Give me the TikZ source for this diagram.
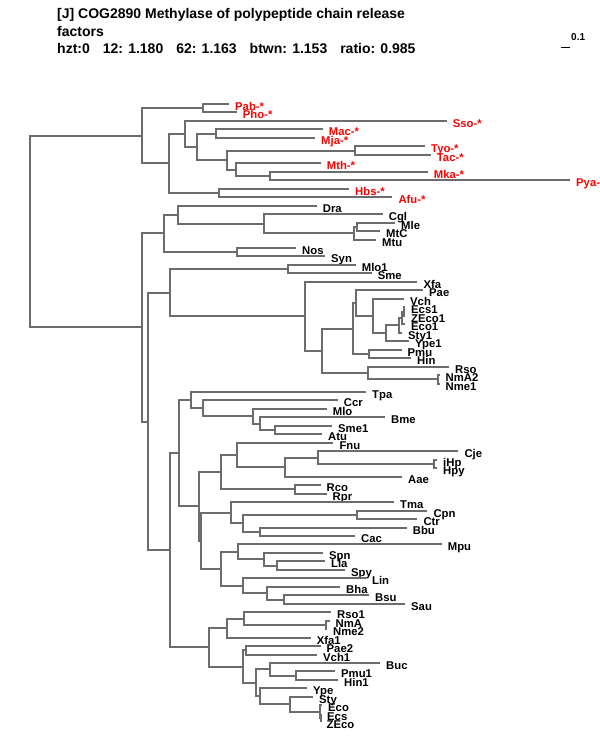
\documentclass[tikz,border=0pt]{standalone}
\usepackage{fontspec}
\setmainfont{Liberation Sans}
\definecolor{brc}{RGB}{108,108,108}
\definecolor{arc}{RGB}{255,0,0}
\tikzset{
 branch/.style={draw=brc, line width=2pt},
 lbl/.style={anchor=base west, inner sep=0pt, font=\fontsize{11.3}{13}\selectfont\bfseries},
 ttl/.style={anchor=base west, inner sep=0pt, font=\fontsize{14}{16}\selectfont\bfseries},
}
\newcommand\lf[5]{\coordinate (#1) at ({round(#3)},{round(104+(#2-1)*8.47)});
 \node[lbl,text=#5] (#1t) at ({#3+6},{round(104+(#2-1)*8.47)+6}) {#4};}
\newcommand\kids[2]{\foreach \c in {#2} {\draw[branch] (#1) |- (\c);}}
\begin{document}
\begin{tikzpicture}[x=1pt,y=-1pt]
\useasboundingbox (0,0) rectangle (600,750);
% title
\node[ttl] (t1) at (57,18.5) {[J] COG2890 Methylase of polypeptide chain release};
\node[ttl] (t2) at (57,36) {factors};
\node[ttl] (t3) at (57,53.5) {hzt:0\hspace{13pt}12: 1.180\hspace{13pt}62: 1.163\hspace{13pt}btwn: 1.153\hspace{13pt}ratio: 0.985};
% scale bar
\coordinate (sb1) at (561,47.5);
\coordinate (sb2) at (570,47.5);
\draw[black, line width=1pt] (sb1) -- (sb2);
\node[anchor=base west, inner sep=0pt, font=\fontsize{10}{12}\selectfont\bfseries] (sbt) at (571,40.5) {0.1};
% leaves
\lf{l1}{1}{229}{Pab-*}{arc}
\lf{l2}{2}{236.7}{Pho-*}{arc}
\lf{l3}{3}{446.7}{Sso-*}{arc}
\lf{l4}{4}{322.7}{Mac-*}{arc}
\lf{l5}{5}{315}{Mja-*}{arc}
\lf{l6}{6}{425}{Tyo-*}{arc}
\lf{l7}{7}{430.7}{Tac-*}{arc}
\lf{l8}{8}{320.7}{Mth-*}{arc}
\lf{l9}{9}{427.7}{Mka-*}{arc}
\lf{l10}{10}{570}{Pya-*}{arc}
\lf{l11}{11}{349}{Hbs-*}{arc}
\lf{l12}{12}{392.3}{Afu-*}{arc}
\lf{l13}{13}{316.7}{Dra}{black}
\lf{l14}{14}{382.7}{Cgl}{black}
\lf{l15}{15}{395}{Mle}{black}
\lf{l16}{16}{380}{MtC}{black}
\lf{l17}{17}{376}{Mtu}{black}
\lf{l18}{18}{296}{Nos}{black}
\lf{l19}{19}{325}{Syn}{black}
\lf{l20}{20}{355.7}{Mlo1}{black}
\lf{l21}{21}{371.7}{Sme}{black}
\lf{l22}{22}{417.3}{Xfa}{black}
\lf{l23}{23}{423}{Pae}{black}
\lf{l24}{24}{404}{Vch}{black}
\lf{l25}{25}{405}{Ecs1}{black}
\lf{l26}{26}{405}{ZEco1}{black}
\lf{l27}{27}{405}{Eco1}{black}
\lf{l28}{28}{402}{Sty1}{black}
\lf{l29}{29}{409}{Ype1}{black}
\lf{l30}{30}{401.5}{Pmu}{black}
\lf{l31}{31}{411}{Hin}{black}
\lf{l32}{32}{449}{Rso}{black}
\lf{l33}{33}{439.5}{NmA2}{black}
\lf{l34}{34}{439.5}{Nme1}{black}
\lf{l35}{35}{366}{Tpa}{black}
\lf{l36}{36}{337.7}{Ccr}{black}
\lf{l37}{37}{326.7}{Mlo}{black}
\lf{l38}{38}{385}{Bme}{black}
\lf{l39}{39}{332}{Sme1}{black}
\lf{l40}{40}{322}{Atu}{black}
\lf{l41}{41}{333.3}{Fnu}{black}
\lf{l42}{42}{458.3}{Cje}{black}
\lf{l43}{43}{437}{iHp}{black}
\lf{l44}{44}{437}{Hpy}{black}
\lf{l45}{45}{402}{Aae}{black}
\lf{l46}{46}{320.5}{Rco}{black}
\lf{l47}{47}{326.5}{Rpr}{black}
\lf{l48}{48}{394}{Tma}{black}
\lf{l49}{49}{427.3}{Cpn}{black}
\lf{l50}{50}{417.3}{Ctr}{black}
\lf{l51}{51}{406.7}{Bbu}{black}
\lf{l52}{52}{355}{Cac}{black}
\lf{l53}{53}{441.7}{Mpu}{black}
\lf{l54}{54}{323}{Spn}{black}
\lf{l55}{55}{325}{Lla}{black}
\lf{l56}{56}{345}{Spy}{black}
\lf{l57}{57}{366}{Lin}{black}
\lf{l58}{58}{340}{Bha}{black}
\lf{l59}{59}{369}{Bsu}{black}
\lf{l60}{60}{405}{Sau}{black}
\lf{l61}{61}{331}{Rso1}{black}
\lf{l62}{62}{329.5}{NmA}{black}
\lf{l63}{63}{327}{Nme2}{black}
\lf{l64}{64}{310.7}{Xfa1}{black}
\lf{l65}{65}{320.5}{Pae2}{black}
\lf{l66}{66}{317}{Vch1}{black}
\lf{l67}{67}{380}{Buc}{black}
\lf{l68}{68}{335}{Pmu1}{black}
\lf{l69}{69}{338}{Hin1}{black}
\lf{l70}{70}{307}{Ype}{black}
\lf{l71}{71}{313}{Sty}{black}
\lf{l72}{72}{322}{Eco}{black}
\lf{l73}{73}{321}{Ecs}{black}
\lf{l74}{74}{320.5}{ZEco}{black}
% internal nodes
\coordinate (R) at (30,232);
\coordinate (A) at (142,136);
\coordinate (A1) at (203,108);
\coordinate (A2) at (169,163);
\coordinate (A3) at (185,134);
\coordinate (A4) at (197,147);
\coordinate (A5) at (216,134);
\coordinate (A6) at (227,160);
\coordinate (A7) at (355,151);
\coordinate (A8) at (236,170);
\coordinate (A8b) at (270,176);
\coordinate (A9) at (219,193);
\coordinate (B) at (142,327);
\coordinate (B1) at (164,233);
\coordinate (B1a) at (178,215);
\coordinate (B1b) at (237,252);
\coordinate (B1c) at (264,224);
\coordinate (B1d) at (354,233);
\coordinate (B1e) at (357,227);
\coordinate (B2) at (148,422);
\coordinate (B3) at (170,293);
\coordinate (B3a) at (288,269);
\coordinate (B3b) at (305,316);
\coordinate (B3c) at (322,351);
\coordinate (B3d) at (353,329);
\coordinate (B3dp) at (356,303);
\coordinate (B3e) at (373,316);
\coordinate (B3f) at (386,333);
\coordinate (B3g) at (399,325);
\coordinate (B3h) at (402,318);
\coordinate (B3i) at (404,312);
\coordinate (PH) at (369,354);
\coordinate (B3k) at (368,373);
\coordinate (B3m) at (438,379);
\coordinate (B4) at (170,550);
\coordinate (B5) at (179,453);
\coordinate (B5a) at (191,400);
\coordinate (B5c) at (203,408);
\coordinate (B5d) at (253,416);
\coordinate (B5e) at (260,424);
\coordinate (B5f) at (275,430);
\coordinate (B5b) at (199,506);
\coordinate (B5g) at (221,472);
\coordinate (B5h) at (237,455);
\coordinate (B5i) at (285,467);
\coordinate (B5j) at (318,458);
\coordinate (B5k) at (434,464);
\coordinate (B5l) at (295,489);
\coordinate (B5m) at (201,541);
\coordinate (B5n) at (231,513);
\coordinate (B5o) at (243,523);
\coordinate (B5p) at (357,515);
\coordinate (B5q) at (260,532);
\coordinate (B5r) at (221,569);
\coordinate (B5s) at (238,552);
\coordinate (B5u) at (264,559);
\coordinate (B5v) at (277,566);
\coordinate (B5t) at (243,586);
\coordinate (B5w) at (267,593);
\coordinate (B5x) at (284,600);
\coordinate (B6) at (209,647);
\coordinate (B6a) at (227,628);
\coordinate (B6c) at (244,619);
\coordinate (B6d) at (326,625);
\coordinate (B6b) at (243,667);
\coordinate (B6e) at (246,650);
\coordinate (B6f) at (256,683);
\coordinate (B6g) at (270,669);
\coordinate (B6h) at (296,676);
\coordinate (B6j) at (260,696);
\coordinate (B6k) at (290,704);
\coordinate (B6l) at (320,712);
\coordinate (B6m) at (321,718);
% branches
\kids{R}{A,B}
\kids{A}{A1,A2}
\kids{A1}{l1,l2}
\kids{A2}{A3,A9}
\kids{A3}{l3,A4}
\kids{A4}{A5,A6}
\kids{A5}{l4,l5}
\kids{A6}{A7,A8}
\kids{A7}{l6,l7}
\kids{A8}{l8,A8b}
\kids{A8b}{l9,l10}
\kids{A9}{l11,l12}
\kids{B}{B1,B2}
\kids{B1}{B1a,B1b}
\kids{B1a}{l13,B1c}
\kids{B1c}{l14,B1d}
\kids{B1d}{B1e,l17}
\kids{B1e}{l15,l16}
\kids{B1b}{l18,l19}
\kids{B2}{B3,B4}
\kids{B3}{B3a,B3b}
\kids{B3a}{l20,l21}
\kids{B3b}{l22,B3c}
\kids{B3c}{B3d,B3k}
\kids{B3d}{B3dp,PH}
\kids{B3dp}{l23,B3e}
\kids{B3e}{l24,B3f}
\kids{B3f}{B3g,l29}
\kids{B3g}{B3h,l28}
\kids{B3h}{B3i,l27}
\kids{B3i}{l25,l26}
\kids{PH}{l30,l31}
\kids{B3k}{l32,B3m}
\kids{B3m}{l33,l34}
\kids{B4}{B5,B6}
\kids{B5}{B5a,B5b}
\kids{B5a}{l35,B5c}
\kids{B5c}{l36,B5d}
\kids{B5d}{l37,B5e}
\kids{B5e}{l38,B5f}
\kids{B5f}{l39,l40}
\kids{B5b}{B5g,B5m}
\kids{B5g}{B5h,B5l}
\kids{B5h}{l41,B5i}
\kids{B5i}{B5j,l45}
\kids{B5j}{l42,B5k}
\kids{B5k}{l43,l44}
\kids{B5l}{l46,l47}
\kids{B5m}{B5n,B5r}
\kids{B5n}{l48,B5o}
\kids{B5o}{B5p,B5q}
\kids{B5p}{l49,l50}
\kids{B5q}{l51,l52}
\kids{B5r}{B5s,B5t}
\kids{B5s}{l53,B5u}
\kids{B5u}{l54,B5v}
\kids{B5v}{l55,l56}
\kids{B5t}{l57,B5w}
\kids{B5w}{l58,B5x}
\kids{B5x}{l59,l60}
\kids{B6}{B6a,B6b}
\kids{B6a}{B6c,l64}
\kids{B6c}{l61,B6d}
\kids{B6d}{l62,l63}
\kids{B6b}{B6e,B6f}
\kids{B6e}{l65,l66}
\kids{B6f}{B6g,B6j}
\kids{B6g}{l67,B6h}
\kids{B6h}{l68,l69}
\kids{B6j}{l70,B6k}
\kids{B6k}{l71,B6l}
\kids{B6l}{l72,B6m}
\kids{B6m}{l73,l74}
\end{tikzpicture}
\end{document}
